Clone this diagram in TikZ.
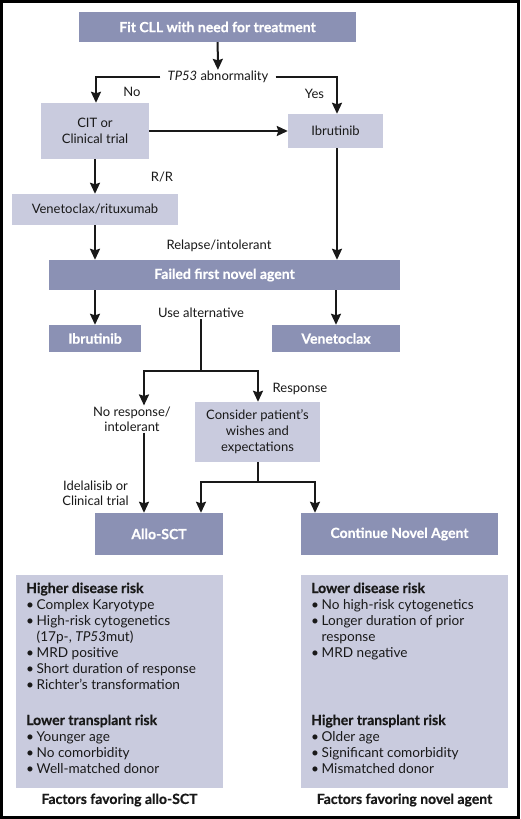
\documentclass[tikz,border=0pt]{standalone}
\usepackage{fontspec}
\setmainfont{Lato}[BoldFeatures={FakeBold=0.5}]
\usetikzlibrary{arrows.meta}
\definecolor{darkfill}{RGB}{139,145,180}
\definecolor{lightfill}{RGB}{201,203,222}
\definecolor{ink}{RGB}{25,25,25}
\newcommand\bl{\makebox[10.5pt][l]{•}}
\begin{document}
\begin{tikzpicture}[x=1pt,y=-1pt,
 darkbox/.style={fill=darkfill, text=white, font=\bfseries\fontsize{14}{16}\selectfont, inner sep=0, align=center},
 lightbox/.style={fill=lightfill, text=ink, font=\fontsize{13}{16}\selectfont, inner sep=0, align=center},
 lbl/.style={text=ink, font=\fontsize{13}{15}\selectfont, inner sep=1pt, align=center},
 txt/.style={text=ink, font=\fontsize{13.6}{15}\selectfont, inner sep=0},
 hd/.style={text=ink, font=\bfseries\fontsize{14}{15}\selectfont, inner sep=0},
 arr/.style={line width=2pt, draw=ink, -{Stealth[width=10pt,length=11pt,inset=1.5pt]}}]
\useasboundingbox (0,0) rectangle (520,819);
\fill[white] (0,0) rectangle (520,819);
\draw[line width=3pt, black] (1.5,1.5) rectangle (518.5,817.5);

\node[darkbox, minimum width=277, minimum height=30] (fit) at (217.5,27) {Fit CLL with need for treatment};
\node[lbl, inner xsep=7pt] (tp) at (218,77) {\textit{TP53} abnormality};
\node[lightbox, minimum width=108, minimum height=56] (cit) at (95,131) {CIT or\\Clinical trial};
\node[lightbox, minimum width=95, minimum height=34] (ib1) at (335.5,131) {Ibrutinib};
\node[lightbox, minimum width=166, minimum height=31] (vr) at (95,209.5) {Venetoclax/rituxumab};
\node[darkbox, minimum width=351, minimum height=30] (fail) at (224.5,275) {Failed first novel agent};
\node[darkbox, minimum width=92, minimum height=27] (ib2) at (95,338.5) {Ibrutinib};
\node[darkbox, minimum width=128, minimum height=27] (ven) at (336,338.5) {Venetoclax};
\node[lightbox, minimum width=125, minimum height=60] (cons) at (257.5,432) {Consider patient’s\\wishes and\\expectations};
\node[darkbox, minimum width=128, minimum height=42] (allo) at (159,534) {Allo-SCT};
\node[darkbox, minimum width=197, minimum height=42] (cont) at (399.5,534) {Continue Novel Agent};

\node[lbl] (no) at (132,92) {No};
\node[lbl] (yes) at (314.5,94) {Yes};
\node[lbl] (rr) at (162,177) {R/R};
\node[lbl] (rel) at (219,246) {Relapse/intolerant};
\node[lbl] (alt) at (201,313) {Use alternative};
\node[lbl] (resp) at (300,389) {Response};
\node[lbl] (nr) at (132,419) {No response/\\intolerant};
\node[lbl] (idl) at (95.5,493) {Idelalisib or\\Clinical trial};

\coordinate (split) at (201,371);
\coordinate (sl) at (144,371);
\coordinate (cs) at (258,482);

\draw[arr] (fit) -- (tp);
\draw[arr] (tp.west) -| ([xshift=1]cit.north);
\draw[arr] (tp.east) -| ([xshift=1.5]ib1.north);
\draw[arr] (cit) -- (ib1);
\draw[arr] (cit.south) -- (vr.north);
\draw[arr] (vr.south) -- (vr.south |- fail.north);
\draw[arr] ([xshift=1.5]ib1.south) -- ([xshift=1.5]ib1.south |- fail.north);
\draw[arr] (ib2.north |- fail.south) -- (ib2.north);
\draw[arr] (ven.north |- fail.south) -- (ven.north);
\draw[arr] (alt.south) -- (split) -| (sl |- nr.north);
\draw[arr] (split) -| ([xshift=0.5]cons.north);
\draw[arr] (sl |- nr.south) -- (sl |- allo.north);
\draw[arr] ([xshift=0.5]cons.south) -- (cs) -| ([xshift=42]allo.north);
\draw[arr] (cs) -| ([xshift=-84.5]cont.north);

\node[fill=lightfill, minimum width=207, minimum height=213, anchor=north west, inner sep=0] (fl) at (16,575) {};
\node[fill=lightfill, minimum width=207, minimum height=213, anchor=north west, inner sep=0] (fr) at (301,575) {};

\foreach \yy/\lin [count=\k] in {609/{\bl Complex Karyotype}, 625/{\bl High-risk cytogenetics}, 641/{\hspace*{10.5pt}(17p-, \textit{TP53}mut)}, 657/{\bl MRD positive}, 673/{\bl Short duration of response}, 689/{\bl Richter’s transformation}, 741/{\bl Younger age}, 757/{\bl No comorbidity}, 773/{\bl Well-matched donor}}
  \node[txt, anchor=base west] (L\k) at (26,\yy) {\lin};
\node[hd, anchor=base west] (Lh1) at (26,593) {Higher disease risk};
\node[hd, anchor=base west] (Lh2) at (26,725) {Lower transplant risk};

\foreach \yy/\lin [count=\k] in {609/{\bl No high-risk cytogenetics}, 625/{\bl Longer duration of prior}, 641/{\hspace*{10.5pt}response}, 657/{\bl MRD negative}, 741/{\bl Older age}, 757/{\bl Significant comorbidity}, 773/{\bl Mismatched donor}}
  \node[txt, anchor=base west] (R\k) at (311,\yy) {\lin};
\node[hd, anchor=base west] (Rh1) at (311,593) {Lower disease risk};
\node[hd, anchor=base west] (Rh2) at (311,725) {Higher transplant risk};

\node[hd] (capl) at (119.5,800) {Factors favoring allo-SCT};
\node[hd] (capr) at (404.5,800) {Factors favoring novel agent};
\end{tikzpicture}
\end{document}
